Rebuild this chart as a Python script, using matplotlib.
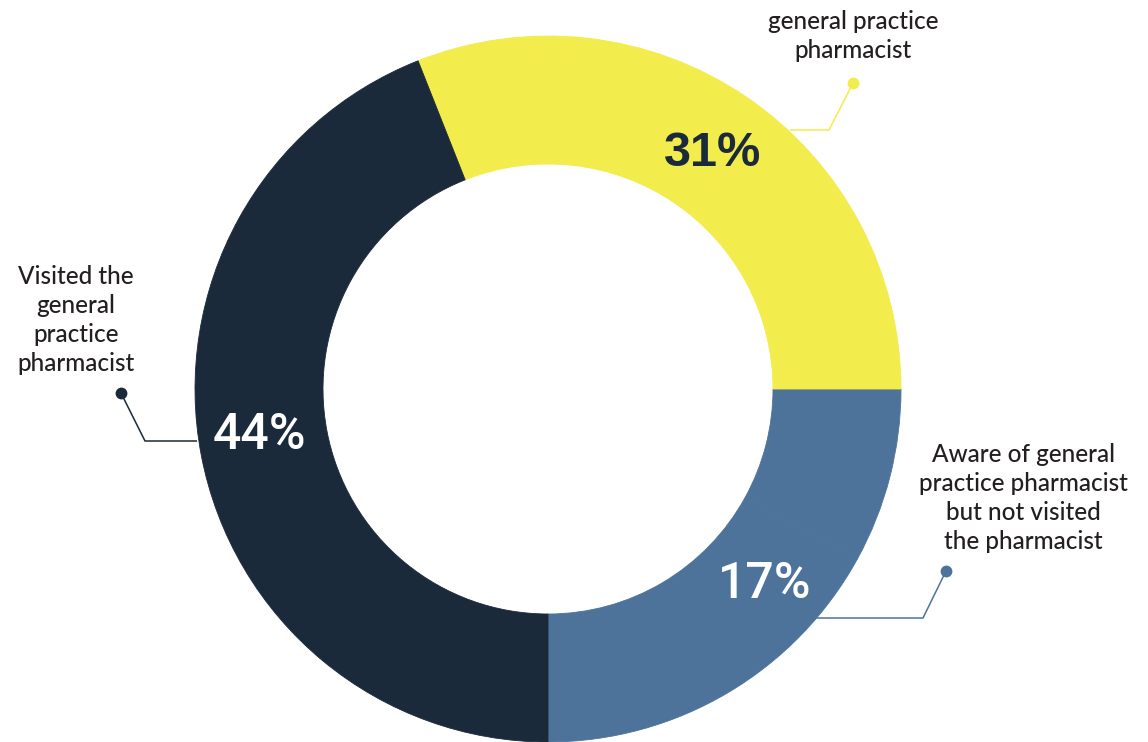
import matplotlib.pyplot as plt

# survey shares, in per cent
categories = ["Aware of general\npractice pharmacist\nbut not visited\nthe pharmacist",
              "general practice\npharmacist",
              "Visited the\ngeneral\npractice\npharmacist"]
shares = [17, 31, 44]
pct_labels = ["17%", "31%", "44%"]
colors = ["#4e739b", "#f2ec4c", "#1b2a3a"]
# part of the ring no label accounts for; it sits next to the 17% and takes its colour
unlabelled = 100 - sum(shares)

W, H = 1148, 742
fig = plt.figure(figsize=(W / 100, H / 100), dpi=100)
ax = fig.add_axes([0, 0, 1, 1])

cx, cy = 548, H - 389
r_out, r_in = 353, 225

vals = [shares[0], unlabelled, shares[1], shares[2]]
cols = [colors[0], colors[0], colors[1], colors[2]]
wedges, _ = ax.pie(vals, colors=cols, startangle=-90, counterclock=True,
                   radius=r_out, center=(cx, cy), frame=True,
                   wedgeprops=dict(width=r_out - r_in, linewidth=0.6))
for w, c in zip(wedges, cols):
    w.set_edgecolor(c)
ax.set_xlim(0, W)
ax.set_ylim(0, H)
ax.set_aspect("equal")
ax.axis("off")

txt = "#231f20"
label_font = ["Lato", "DejaVu Sans"]
pct_font = ["Roboto", "DejaVu Sans"]

# percentages inside the ring
ax.text(713, H - 154, pct_labels[1], color=colors[2], fontsize=35, fontweight="bold",
        family=["Liberation Sans", "DejaVu Sans"], ha="center", va="center")
ax.text(259, H - 435, pct_labels[2], color="white", fontsize=36, fontweight="medium",
        family=pct_font, ha="center", va="center")
ax.text(765, H - 584, pct_labels[0], color="white", fontsize=36, fontweight="medium",
        family=pct_font, ha="center", va="center")

# category labels with leader lines
leaders = [
    # (text x, text middle y, dot, elbow, end)
    (1023, 498, (946, 571), (923, 618), (815, 618)),
    (853, 36, (853, 83), (829, 130), (790, 130)),
    (76, 320, (121, 393), (145, 441), (197, 441)),
]
for (tx, ty, dot, elbow, end), name, c in zip(leaders, categories, colors):
    ax.text(tx, H - ty, name, color=txt, fontsize=17.5, family=label_font,
            fontweight="medium", ha="center", va="center", linespacing=1.3)
    xs = [dot[0], elbow[0], end[0]]
    ys = [H - dot[1], H - elbow[1], H - end[1]]
    ax.plot(xs, ys, color=c, lw=1.1, solid_capstyle="butt")
    ax.plot(dot[0], H - dot[1], "o", color=c, ms=8.5, mew=0)

fig.savefig("out.png", dpi=100)
